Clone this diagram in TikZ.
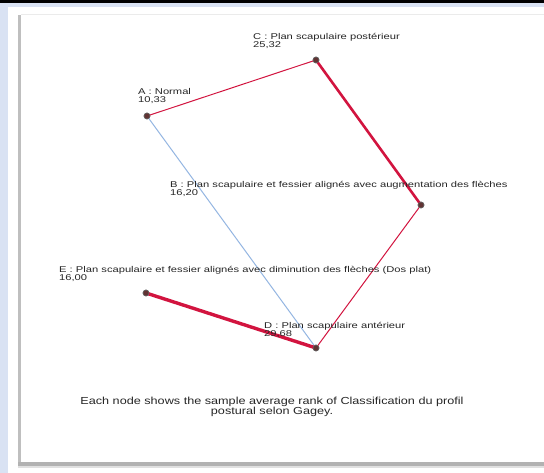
\documentclass[tikz,border=0pt]{standalone}
\usepackage{fontspec}
\setmainfont{Liberation Sans}
\newfontfamily\widelbl[FakeStretch=1.33]{Liberation Sans}
\newfontfamily\widecap[FakeStretch=1.24]{Liberation Sans}
\begin{document}
\begin{tikzpicture}[x=1pt,y=-1pt,
  lbl/.style={anchor=north west,align=left,inner sep=0pt,font=\widelbl\fontsize{8.4}{8.6}\selectfont,text=black!85},
  dot/.style={circle,fill=black!70!red!60!gray,draw=black!60,line width=0.6pt,minimum size=6pt,inner sep=0pt},
  thinred/.style={draw=redc,line width=1pt},
  thickred/.style={draw=redc,line width=3pt},
  bluel/.style={draw=bluec,line width=1pt}]
\definecolor{redc}{HTML}{D2143F}
\definecolor{bluec}{HTML}{94B6E2}
\definecolor{bgblue}{HTML}{D9E2F3}
\useasboundingbox (0,0) rectangle (544,473);
\fill[white] (0,0) rectangle (544,473);
\fill[bgblue] (0,0) rectangle (8,473);
\fill[bgblue] (8,3) rectangle (544,7);
\fill[black] (0,0) rectangle (544,3.5);
% panel shadows
\fill[black!25] (18,15) rectangle (21,466);
\fill[black!30] (18,462) rectangle (544,466);
\fill[black!12] (18,466) rectangle (544,468);
\fill[white] (21,15) rectangle (544,462);
\draw[black!8,line width=1pt] (21,15) -- (544,15);
% nodes
\node[dot] (A) at (147,116) {};
\node[dot] (C) at (316,60) {};
\node[dot] (B) at (421,205) {};
\node[dot] (D) at (316,348) {};
\node[dot] (E) at (146,293) {};
% edges
\draw[bluel] (A.center) -- (D.center);
\draw[thinred] (A.center) -- (C.center);
\draw[thinred] (B.center) -- (D.center);
\draw[thickred,line width=2.6pt] (C.center) -- (B.center);
\draw[thickred,line width=3.4pt] (E.center) -- (D.center);
\foreach \n in {A,B,C,D,E} \node[dot] at (\n) {};
% labels
\node[lbl] (lA) at (138,88) {A : Normal\\10,33};
\node[lbl] (lC) at (253,33) {C : Plan scapulaire postérieur\\25,32};
\node[lbl] (lB) at (170,181) {B : Plan scapulaire et fessier alignés avec augmentation des flèches\\16,20};
\node[lbl] (lE) at (59,266) {E : Plan scapulaire et fessier alignés avec diminution des flèches (Dos plat)\\16,00};
\node[lbl] (lD) at (264,322) {D : Plan scapulaire antérieur\\29,68};
\node[align=center,inner sep=0pt,font=\widecap\fontsize{10.2}{10.2}\selectfont,text=black!85] (cap) at (272,407) {Each node shows the sample average rank of Classification du profil\\postural selon Gagey.};
\end{tikzpicture}
\end{document}
